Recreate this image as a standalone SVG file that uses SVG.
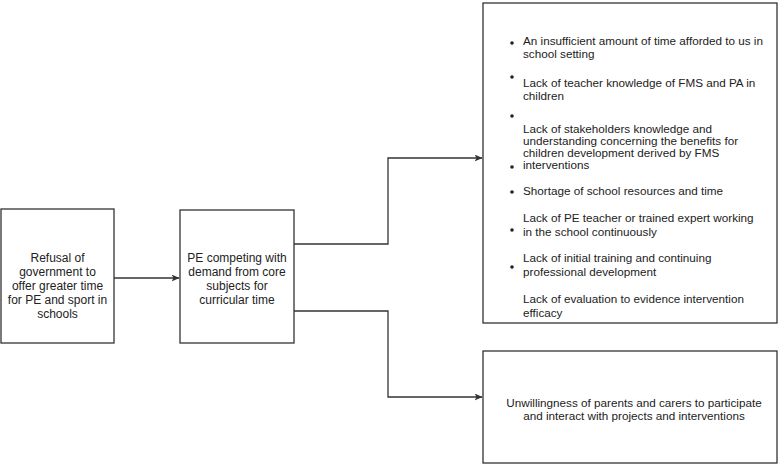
<svg xmlns="http://www.w3.org/2000/svg" width="780" height="465" viewBox="0 0 780 465">
<defs>
<style>
.box{fill:#fff;stroke:#333;stroke-width:1.3}
.t{font-family:"Liberation Sans",Arial,sans-serif;font-size:12px;fill:#222}
.s{font-size:11.7px}
.c{text-anchor:middle}
.conn{fill:none;stroke:#333;stroke-width:1.3}
.dot{fill:#222}
</style>
<marker id="ah" markerWidth="8" markerHeight="7" refX="7.5" refY="3.5" orient="auto" markerUnits="userSpaceOnUse">
<path d="M0,0 L8,3.5 L0,7 L2,3.5 Z" fill="#333"/>
</marker>
</defs>
<rect width="780" height="465" fill="#fff"/>
<g id="connectors">
<path class="conn" d="M114,278 H179" marker-end="url(#ah)"/>
<path class="conn" d="M294,244 H388 V158 H482" marker-end="url(#ah)"/>
<path class="conn" d="M294,311 H388 V397 H482" marker-end="url(#ah)"/>
</g>
<g id="n1">
<rect class="box" x="1" y="209" width="113" height="134"/>
<text class="t c" x="57.5" y="262">Refusal of</text>
<text class="t c" x="57.5" y="276">government to</text>
<text class="t c" x="57.5" y="290">offer greater time</text>
<text class="t c" x="57.5" y="304">for PE and sport in</text>
<text class="t c" x="57.5" y="318">schools</text>
</g>
<g id="n2">
<rect class="box" x="180" y="210" width="114" height="133"/>
<text class="t c" x="237" y="262">PE competing with</text>
<text class="t c" x="237" y="276">demand from core</text>
<text class="t c" x="237" y="290">subjects for</text>
<text class="t c" x="237" y="304">curricular time</text>
</g>
<g id="n3">
<rect class="box" x="483" y="3" width="294" height="320"/>
<circle class="dot" cx="512" cy="43" r="1.8"/>
<circle class="dot" cx="512" cy="77" r="1.8"/>
<circle class="dot" cx="512" cy="116" r="1.8"/>
<circle class="dot" cx="512" cy="167" r="1.8"/>
<circle class="dot" cx="512" cy="192" r="1.8"/>
<circle class="dot" cx="512" cy="230" r="1.8"/>
<circle class="dot" cx="512" cy="267" r="1.8"/>
<text class="t s" x="523" y="45">An insufficient amount of time afforded to us in</text>
<text class="t s" x="523" y="58">school setting</text>
<text class="t s" x="523" y="87">Lack of teacher knowledge of FMS and PA in</text>
<text class="t s" x="523" y="100">children</text>
<text class="t s" x="523" y="133">Lack of stakeholders knowledge and</text>
<text class="t s" x="523" y="145">understanding concerning the benefits for</text>
<text class="t s" x="523" y="157">children development derived by FMS</text>
<text class="t s" x="523" y="169">interventions</text>
<text class="t s" x="523" y="195">Shortage of school resources and time</text>
<text class="t s" x="523" y="222">Lack of PE teacher or trained expert working</text>
<text class="t s" x="523" y="236">in the school continuously</text>
<text class="t s" x="523" y="262">Lack of initial training and continuing</text>
<text class="t s" x="523" y="276">professional development</text>
<text class="t s" x="523" y="303">Lack of evaluation to evidence intervention</text>
<text class="t s" x="523" y="317">efficacy</text>
</g>
<g id="n4">
<rect class="box" x="483" y="351" width="294" height="112"/>
<text class="t c s" x="634" y="407">Unwillingness of parents and carers to participate</text>
<text class="t c s" x="634" y="420">and interact with projects and interventions</text>
</g>
</svg>
